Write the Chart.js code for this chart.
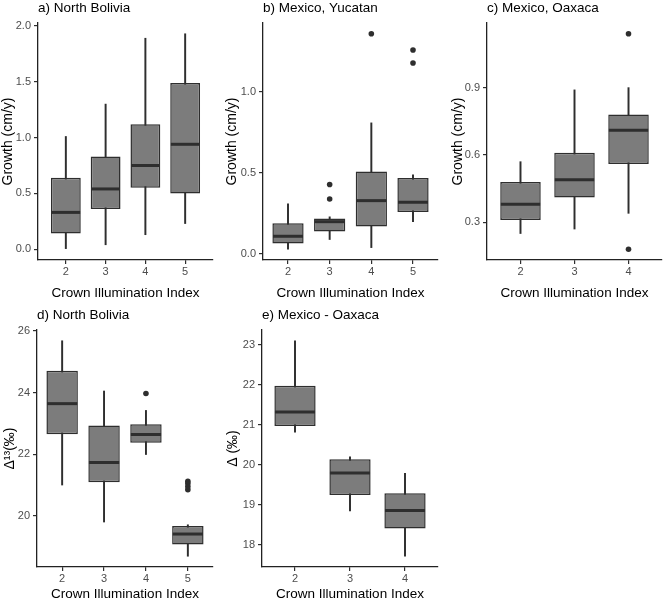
<!DOCTYPE html>
<html lang="en">
  <head>
    <meta charset="UTF-8" />
    <title>Growth and carbon isotope discrimination by crown illumination</title>
    <script src="https://cdn.jsdelivr.net/npm/chart.js"></script>
    <style>
      body { margin: 0; background: #fff; }
      #wrap { position: relative; width: 666px; height: 602px; }
      canvas { position: absolute; }
    </style>
  </head>
  <body>
    <div id="wrap">
      <canvas id="a" width="222" height="301" style="left:0;top:0"></canvas>
      <canvas id="b" width="222" height="301" style="left:222px;top:0"></canvas>
      <canvas id="c" width="222" height="301" style="left:444px;top:0"></canvas>
      <canvas id="d" width="222" height="301" style="left:0;top:301px"></canvas>
      <canvas id="e" width="222" height="301" style="left:222px;top:301px"></canvas>
    </div>
    <script>
      // a) North Bolivia - growth
      const catsA = [2, 3, 4, 5];
      const lowA = [0.0, 0.04, 0.13, 0.23];
      const q1A = [0.14, 0.36, 0.55, 0.5];
      const medA = [0.33, 0.54, 0.75, 0.94];
      const q3A = [0.64, 0.83, 1.12, 1.49];
      const highA = [1.01, 1.3, 1.89, 1.93];
      const outA = [];
      const ticksA = [0, 0.5, 1, 1.5, 2];

      // b) Mexico, Yucatan - growth
      const catsB = [2, 3, 4, 5];
      const lowB = [0.03, 0.09, 0.04, 0.2];
      const q1B = [0.066, 0.14, 0.17, 0.26];
      const medB = [0.11, 0.2, 0.33, 0.32];
      const q3B = [0.19, 0.22, 0.51, 0.47];
      const highB = [0.31, 0.23, 0.81, 0.49];
      const outB = [[3, 0.34], [3, 0.43], [4, 1.36], [5, 1.18], [5, 1.26]];
      const ticksB = [0, 0.5, 1];

      // c) Mexico, Oaxaca - growth
      const catsC = [2, 3, 4];
      const lowC = [0.25, 0.27, 0.34];
      const q1C = [0.31, 0.41, 0.56];
      const medC = [0.38, 0.49, 0.71];
      const q3C = [0.48, 0.61, 0.78];
      const highC = [0.57, 0.89, 0.9];
      const outC = [[4, 1.14], [4, 0.18]];
      const ticksC = [0.3, 0.6, 0.9];

      // d) North Bolivia - delta 13C
      const catsD = [2, 3, 4, 5];
      const lowD = [21.0, 19.8, 21.99, 18.69];
      const q1D = [22.65, 21.09, 22.37, 19.07];
      const medD = [23.64, 21.73, 22.64, 19.41];
      const q3D = [24.71, 22.93, 22.97, 19.67];
      const highD = [25.68, 24.05, 23.42, 19.71];
      const outD = [[4, 23.97], [5, 20.85], [5, 20.95], [5, 21.05], [5, 21.12]];
      const ticksD = [20, 22, 24, 26];

      // e) Mexico - Oaxaca - delta
      const catsE = [2, 3, 4];
      const lowE = [20.82, 18.85, 17.72];
      const q1E = [20.97, 19.25, 18.41];
      const medE = [21.32, 19.8, 18.86];
      const q3E = [21.98, 20.14, 19.29];
      const highE = [23.1, 20.2, 19.79];
      const outE = [];
      const ticksE = [18, 19, 20, 21, 22, 23];

      const FONT = "'Liberation Sans', Arial, sans-serif";
      const ink = "#2e2e2e";

      function boxChart(id, p) {
        const all = p.low.concat(p.high, p.out.map((o) => o[1]));
        const lo = Math.min(...all);
        const hi = Math.max(...all);
        const pad = (hi - lo) * 0.05;
        const first = p.cats[0];
        const last = p.cats[p.cats.length - 1];

        new Chart(document.getElementById(id), {
          type: "bar",
          data: {
            datasets: [
              {
                label: "whisker",
                data: p.cats.map((c, i) => ({ x: c, y: [p.low[i], p.high[i]] })),
                backgroundColor: ink,
                barThickness: 1.3,
                grouped: false,
                order: 3,
              },
              {
                label: "box",
                data: p.cats.map((c, i) => ({ x: c, y: [p.q1[i], p.q3[i]] })),
                backgroundColor: "#7c7c7c",
                borderColor: ink,
                borderWidth: 1.5,
                borderSkipped: false,
                barPercentage: 0.75,
                categoryPercentage: 1,
                grouped: false,
                order: 2,
              },
              {
                type: "line",
                label: "median",
                data: p.cats.map((c, i) => ({ x: c, y: p.med[i] })),
                showLine: false,
                pointStyle: "line",
                pointRadius: (ctx) => {
                  const s = ctx.chart.scales.x;
                  return 0.375 * (s.getPixelForValue(1) - s.getPixelForValue(0)) - 0.6;
                },
                pointBorderWidth: 3,
                pointBorderColor: ink,
                order: 1,
              },
              {
                type: "line",
                label: "outlier",
                data: p.out.map((o) => ({ x: o[0], y: o[1] })),
                showLine: false,
                pointRadius: 2.8,
                pointBackgroundColor: ink,
                pointBorderWidth: 0,
                order: 0,
              },
            ],
          },
          options: {
            responsive: false,
            animation: false,
            events: [],
            layout: { padding: { left: 0, right: p.padRight, top: 0, bottom: 0 } },
            plugins: {
              legend: { display: false },
              tooltip: { enabled: false },
              title: {
                display: true,
                text: p.title,
                align: "start",
                fullSize: false,
                color: "#000",
                font: { family: FONT, size: 13.5, weight: "normal" },
                padding: { top: p.titleTop, bottom: p.titleBottom },
              },
            },
            scales: {
              x: {
                type: "linear",
                min: first - p.xExp,
                max: last + p.xExp,
                offset: false,
                grid: {
                  display: true,
                  offset: false,
                  drawOnChartArea: false,
                  drawTicks: true,
                  tickLength: 4,
                  color: ink,
                  lineWidth: 1.2,
                },
                border: { display: true, color: "#222", width: 1.3 },
                afterBuildTicks: (s) => {
                  s.ticks = p.cats.map((v) => ({ value: v }));
                },
                ticks: {
                  color: "#4d4d4d",
                  font: { family: FONT, size: 11 },
                  padding: 1,
                  maxRotation: 0,
                  autoSkip: false,
                  callback: (v) => String(v),
                },
                title: {
                  display: true,
                  text: "Crown Illumination Index",
                  color: "#000",
                  font: { family: FONT, size: 13.5 },
                  padding: { top: 0, bottom: 0 },
                },
                afterFit: (s) => {
                  s.height = p.xH;
                },
              },
              y: {
                type: "linear",
                min: lo - pad,
                max: hi + pad,
                grid: {
                  display: true,
                  drawOnChartArea: false,
                  drawTicks: true,
                  tickLength: 4,
                  color: ink,
                  lineWidth: 1.2,
                },
                border: { display: true, color: "#222", width: 1.3 },
                afterBuildTicks: (s) => {
                  s.ticks = p.ticks.map((v) => ({ value: v }));
                },
                ticks: {
                  color: "#4d4d4d",
                  font: { family: FONT, size: 11 },
                  padding: 3,
                  callback: (v) => v.toFixed(p.dec),
                },
                title: {
                  display: true,
                  text: p.ytitle,
                  color: "#000",
                  font: { family: FONT, size: 14 },
                  padding: { top: p.yTitlePad, bottom: 0 },
                },
                afterFit: (s) => {
                  s.width = p.yW;
                },
              },
            },
          },
        });
      }

      boxChart("a", {
        title: "a) North Bolivia", ytitle: "Growth (cm/y)", dec: 1,
        cats: catsA, low: lowA, q1: q1A, med: medA, q3: q3A, high: highA, out: outA, ticks: ticksA,
        yW: 38, padRight: 9, xH: 41, titleTop: 0, titleBottom: 6.8, yTitlePad: 0, xExp: 0.7,
      });
      boxChart("b", {
        title: "b) Mexico, Yucatan", ytitle: "Growth (cm/y)", dec: 1,
        cats: catsB, low: lowB, q1: q1B, med: medB, q3: q3B, high: highB, out: outB, ticks: ticksB,
        yW: 41, padRight: 6, xH: 41, titleTop: 0, titleBottom: 6.8, yTitlePad: 1.6, xExp: 0.6,
      });
      boxChart("c", {
        title: "c) Mexico, Oaxaca", ytitle: "Growth (cm/y)", dec: 1,
        cats: catsC, low: lowC, q1: q1C, med: medC, q3: q3C, high: highC, out: outC, ticks: ticksC,
        yW: 43, padRight: 3, xH: 41, titleTop: 0, titleBottom: 6.8, yTitlePad: 5.6, xExp: 0.62,
      });
      boxChart("d", {
        title: "d) North Bolivia", ytitle: "Δ¹³(‰)", dec: 0,
        cats: catsD, low: lowD, q1: q1D, med: medD, q3: q3D, high: highD, out: outD, ticks: ticksD,
        yW: 37, padRight: 9, xH: 35, titleTop: 6, titleBottom: 6.8, yTitlePad: 1.6, xExp: 0.6,
      });
      boxChart("e", {
        title: "e) Mexico - Oaxaca", ytitle: "Δ (‰)", dec: 0,
        cats: catsE, low: lowE, q1: q1E, med: medE, q3: q3E, high: highE, out: outE, ticks: ticksE,
        yW: 40, padRight: 6, xH: 35, titleTop: 6, titleBottom: 6.8, yTitlePad: 2.6, xExp: 0.6,
      });
    </script>
  </body>
</html>
